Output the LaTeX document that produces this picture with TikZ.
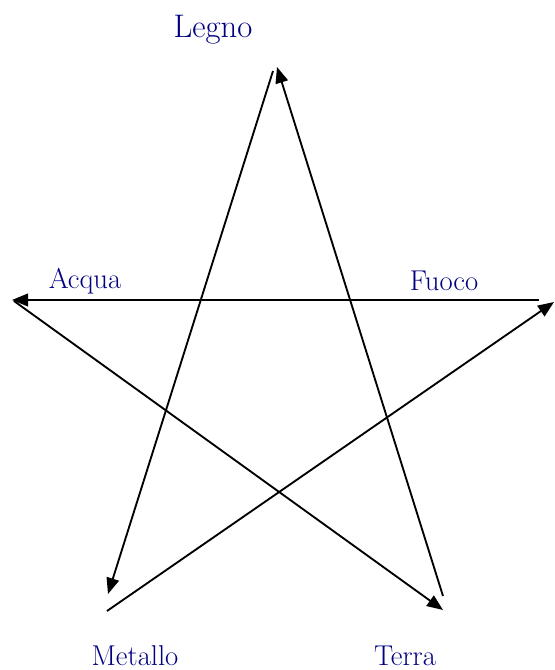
\documentclass[tikz,border=0pt]{standalone}
\usepackage{xcolor}
\usepackage{tikz}
\usetikzlibrary{arrows.meta}
\definecolor{elemblue}{RGB}{0,0,128}

\begin{document}
\begin{tikzpicture}[x=0.75pt, y=-0.75pt,
  lab/.style={text=elemblue, inner sep=0pt, font=\fontsize{21.5}{25}\selectfont},
  big/.style={lab, font=\fontsize{24.5}{28}\selectfont},
  ar/.style={line width=1.4pt, -{Triangle[length=12pt, width=9.5pt]}}]
  \useasboundingbox (0,0) rectangle (555,670);
  % labels
  \node[big] (legno) at (213,30) {Legno};
  \node[lab] (acqua) at (85,281) {Acqua};
  \node[lab] (fuoco) at (444,281) {Fuoco};
  \node[lab] (metallo) at (135,656) {Metallo};
  \node[lab] (terra) at (405,656) {Terra};
  % line ends
  \coordinate (legnoIn) at (277,67); \coordinate (legnoOut) at (273,71);
  \coordinate (metalloIn) at (108,594); \coordinate (metalloOut) at (107,611);
  \coordinate (fuocoIn) at (554,302); \coordinate (fuocoOut) at (539,300);
  \coordinate (acquaIn) at (12,300); \coordinate (acquaOut) at (14,301);
  \coordinate (terraIn) at (443,610); \coordinate (terraOut) at (443,596);
  \foreach \u/\v in {terraOut/legnoIn,legnoOut/metalloIn,metalloOut/fuocoIn,fuocoOut/acquaIn,acquaOut/terraIn} \draw[ar] (\u) -- (\v);
\end{tikzpicture}
\end{document}
